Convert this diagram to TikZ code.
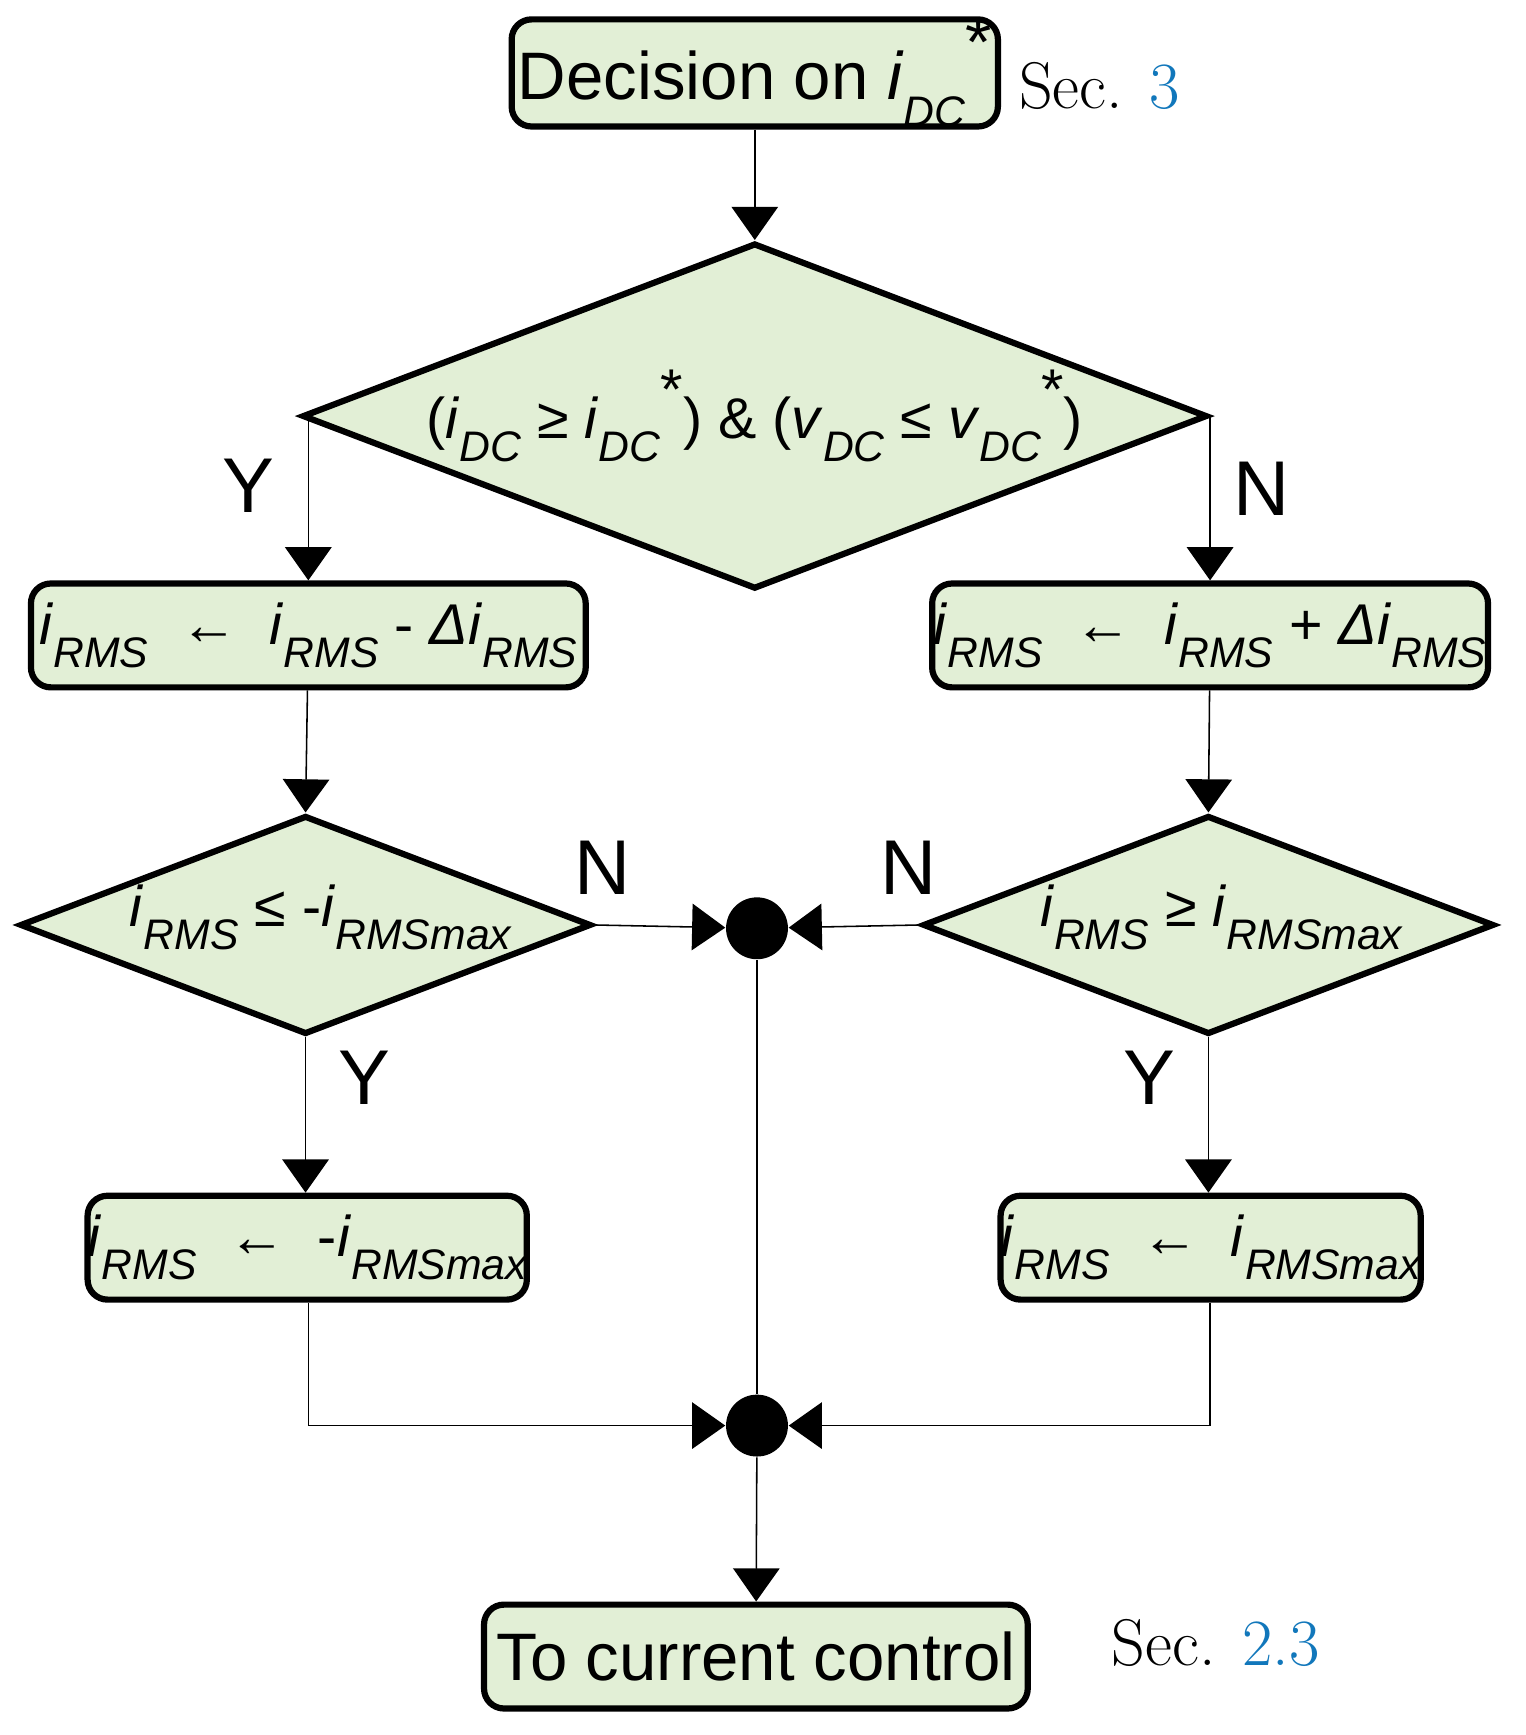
\documentclass[tikz,border=0pt]{standalone}
\usepackage{fontspec}
\setmainfont{Liberation Sans}
\newfontfamily\seriffont{Latin Modern Roman}
\usetikzlibrary{arrows.meta,shapes.geometric}
\definecolor{boxfill}{HTML}{E2EFD6}
\definecolor{reflink}{HTML}{1177BB}
\newcommand{\vsub}[2]{\textit{#1}\raisebox{-0.4em}{\fontsize{11}{12}\selectfont\itshape #2}}
\begin{document}
\begin{tikzpicture}[
    box/.style={rectangle,rounded corners=0.18cm,draw,line width=1.6pt,fill=boxfill,inner sep=0pt,minimum height=0.94cm},
    dia/.style={diamond,draw,line width=1.6pt,fill=boxfill,inner sep=0pt},
    dot/.style={circle,fill=black,inner sep=0pt,minimum size=0.56cm},
    txt/.style={font=\fontsize{14.8}{17}\selectfont},
    yn/.style={font=\fontsize{20}{22}\selectfont},
    sec/.style={font=\seriffont\fontsize{17}{19}\selectfont},
    arrow/.style={-{Triangle[length=0.3cm,width=0.42cm]},line width=0.4pt},
    line/.style={line width=0.4pt}
]
\useasboundingbox (0,0) rectangle (13.8,-15.7);

% Boxes
\node[box,minimum width=4.4cm,font=\fontsize{17.3}{20}\selectfont] (top) at (6.83,-0.66) {Decision on \vsub{i}{DC}\raisebox{0.5em}{*}};
\node[box,minimum width=5.02cm,txt] (lb) at (2.79,-5.75) {\vsub{i}{RMS}\ \ ←\ \ \vsub{i}{RMS} - \vsub{Δi}{RMS}};
\node[box,minimum width=5.03cm,txt] (rb) at (10.95,-5.75) {\vsub{i}{RMS}\ \ ←\ \ \vsub{i}{RMS} + \vsub{Δi}{RMS}};
\node[box,minimum width=3.95cm,txt] (lb2) at (2.78,-11.29) {\vsub{i}{RMS}\ \ ←\ \ -\vsub{i}{RMSmax}};
\node[box,minimum width=3.75cm,txt] (rb2) at (10.955,-11.29) {\vsub{i}{RMS}\ \ ←\ \ \vsub{i}{RMSmax}};
\node[box,minimum width=4.92cm,font=\fontsize{17.3}{20}\selectfont] (end) at (6.84,-14.99) {To current control};

% Diamonds
\node[dia,minimum width=8.19cm,minimum height=3.13cm] (d1) at (6.83,-3.765) {};
\node[txt] at (d1.center) {(\vsub{i}{DC} ≥ \vsub{i}{DC}\raisebox{0.5em}{*}) \& (\vsub{v}{DC} ≤ \vsub{v}{DC}\raisebox{0.5em}{*})};
\node[dia,minimum width=5.17cm,minimum height=1.98cm] (d2) at (2.765,-8.37) {};
\node[txt] at (2.9,-8.3) {\vsub{i}{RMS} ≤ -\vsub{i}{RMSmax}};
\node[dia,minimum width=5.17cm,minimum height=1.98cm] (d3) at (10.935,-8.37) {};
\node[txt] at (11.05,-8.3) {\vsub{i}{RMS} ≥ \vsub{i}{RMSmax}};

% Junctions
\node[dot] (j1) at (6.85,-8.4) {};
\node[dot] (j2) at (6.85,-12.9) {};

% Side notes
\node[sec] (s1) at (9.95,-0.78) {Sec. \textcolor{reflink}{3}};
\node[sec] (s2) at (11.0,-14.87) {Sec. \textcolor{reflink}{2.3}};

% Labels
\node[yn] (y1) at (2.25,-4.4) {Y};
\node[yn] (n1) at (11.42,-4.42) {N};
\node[yn] (n2) at (5.45,-7.85) {N};
\node[yn] (n3) at (8.22,-7.85) {N};
\node[yn] (y2) at (3.3,-9.75) {Y};
\node[yn] (y3) at (10.4,-9.75) {Y};

% Connectors
\draw[arrow] (top) -- (d1.north);
\draw[arrow] (lb.north |- d1.west) -- (lb.north);
\draw[arrow] (rb.north |- d1.east) -- (rb.north);
\draw[arrow] (lb) -- (d2.north);
\draw[arrow] (rb) -- (d3.north);
\draw[arrow] (d2.east) -- (j1);
\draw[arrow] (d3.west) -- (j1);
\draw[arrow] (d2.south) -- (lb2.north -| d2.south);
\draw[arrow] (d3.south) -- (rb2.north -| d3.south);
\draw[line] (j1) -- (j2);
\draw[arrow] (lb.south |- lb2.south) |- (j2);
\draw[arrow] (rb.south |- rb2.south) |- (j2);
\draw[arrow] (j2) -- (end);
\end{tikzpicture}
\end{document}
